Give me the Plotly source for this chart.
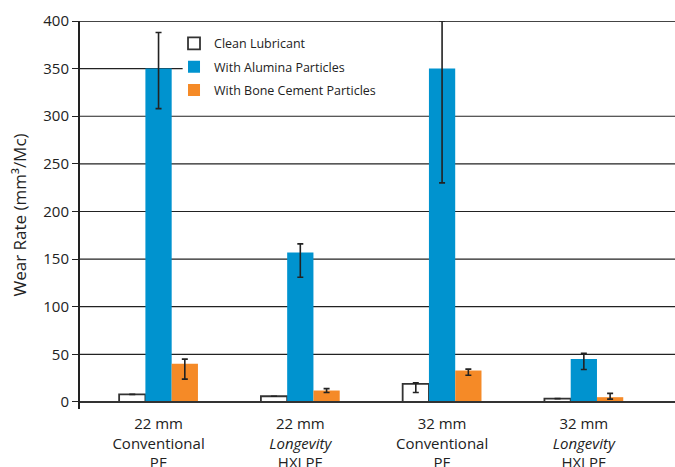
import plotly.graph_objects as go

# Wear rate (mm^3 per million cycles) for four liner types under three lubricant conditions
categories = [
    "22 mm<br>Conventional<br>PE",
    "22 mm<br><i>Longevity</i><br>HXLPE",
    "32 mm<br>Conventional<br>PE",
    "32 mm<br><i>Longevity</i><br>HXLPE",
]
series_names = ["Clean Lubricant", "With Alumina Particles", "With Bone Cement Particles"]

clean = [8, 6, 19, 3.5]
clean_err_plus = [0, 0, 1, 0]
clean_err_minus = [0, 0, 9, 0]

alumina = [350, 157, 350, 45]
alumina_err_plus = [38, 9, 50, 6]
alumina_err_minus = [42, 26, 120, 11]

cement = [40, 12, 33, 5]
cement_err_plus = [5, 2, 1.5, 4]
cement_err_minus = [16, 2, 5, 2]

y_ticks = [0, 50, 100, 150, 200, 250, 300, 350, 400]

FONT = "Open Sans"
INK = "#222222"
BLUE = "#0093CF"
ORANGE = "#F58A27"


def err(plus, minus):
    return dict(type="data", symmetric=False, array=plus, arrayminus=minus,
                color=INK, thickness=1.6, width=3, visible=True)


fig = go.Figure()
fig.add_trace(go.Bar(
    x=categories, y=clean, name=series_names[0], legendgroup="clean",
    marker=dict(color="white", line=dict(color="#333333", width=1.8)),
    error_y=err(clean_err_plus, clean_err_minus),
))
fig.add_trace(go.Bar(
    x=categories, y=alumina, name=series_names[1], legendgroup="alumina",
    marker=dict(color=BLUE, line=dict(width=0)),
    error_y=err(alumina_err_plus, alumina_err_minus),
))
fig.add_trace(go.Bar(
    x=categories, y=cement, name=series_names[2], legendgroup="cement",
    marker=dict(color=ORANGE, line=dict(width=0)),
    error_y=err(cement_err_plus, cement_err_minus),
))

# horizontal rules behind the bars; the 350 rule is short, the top one heavier
shapes = []
for v in y_ticks:
    if v == 0:
        continue
    if v == 350:
        shapes.append(dict(type="line", layer="below", xref="x", yref="y",
                           x0=-0.56, x1=0.17, y0=v, y1=v,
                           line=dict(color=INK, width=1.2)))
    elif v == 400:
        shapes.append(dict(type="line", layer="below", xref="paper", yref="y",
                           x0=0, x1=1, y0=v, y1=v,
                           line=dict(color="#444444", width=2.2)))
    else:
        shapes.append(dict(type="line", layer="below", xref="paper", yref="y",
                           x0=0, x1=1, y0=v, y1=v,
                           line=dict(color=INK, width=1.2)))
# baseline
shapes.append(dict(type="line", layer="above", xref="paper", yref="y",
                   x0=0, x1=1, y0=0, y1=0,
                   line=dict(color="#333333", width=2)))

fig.update_layout(
    width=675, height=467,
    margin=dict(l=80, r=0, t=21, b=58, autoexpand=False),
    paper_bgcolor="white", plot_bgcolor="white",
    font=dict(family=FONT, color=INK),
    barmode="group", bargap=0.444, bargroupgap=0,
    showlegend=True,
    legend=dict(x=0.158, y=0.98, xanchor="left", yanchor="top",
                bgcolor="rgba(0,0,0,0)", font=dict(size=12.5, color=INK),
                tracegroupgap=4, itemclick=False),
    shapes=shapes,
    xaxis=dict(
        range=[-0.554, 3.643], showgrid=False, zeroline=False, showline=False,
        ticks="", tickfont=dict(size=15, color=INK, family=FONT),
        ticklabelstandoff=4, automargin=False,
        fixedrange=True,
    ),
    yaxis=dict(
        range=[-7.4, 400], tickvals=y_ticks, showgrid=False, zeroline=False,
        showline=True, linecolor=INK, linewidth=2,
        ticks="outside", ticklen=6, tickwidth=1, tickcolor=INK,
        tickfont=dict(size=15, color=INK, family=FONT),
        title=dict(text="Wear Rate (mm³/Mc)", font=dict(size=17, color=INK, family=FONT),
                   standoff=12),
        automargin=False,
        fixedrange=True,
    ),
)

fig.write_html("out.html")
